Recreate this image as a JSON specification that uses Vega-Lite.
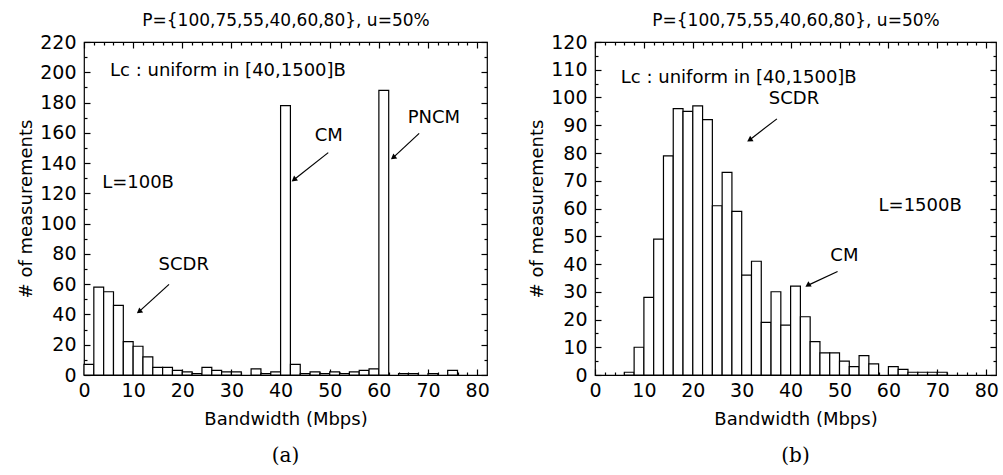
{
  "$schema": "https://vega.github.io/schema/vega-lite/v6.json",
  "background": "white",
  "padding": {"left": 17, "top": 10, "right": 5, "bottom": 5},
  "spacing": 38,
  "config": {
    "view": {"stroke": "black", "strokeWidth": 1.2},
    "axis": {"grid": false, "domain": false, "ticks": true, "tickColor": "black", "tickWidth": 1.2, "labelColor": "black", "titleColor": "black", "labelFont": "DejaVu Sans", "titleFont": "DejaVu Sans", "titleFontWeight": "normal", "labelFlush": false, "labelOverlap": false},
    "title": {"font": "DejaVu Serif", "fontSize": 20, "fontWeight": "normal", "color": "black"},
    "text": {"font": "DejaVu Sans", "fontSize": 18, "color": "black"}
  },
  "datasets": {
    "histA": [
      {"b0": 0, "b1": 2, "n": 7}, {"b0": 2, "b1": 4, "n": 58}, {"b0": 4, "b1": 6, "n": 55}, {"b0": 6, "b1": 8, "n": 46},
      {"b0": 8, "b1": 10, "n": 22}, {"b0": 10, "b1": 12, "n": 19}, {"b0": 12, "b1": 14, "n": 12}, {"b0": 14, "b1": 16, "n": 5},
      {"b0": 16, "b1": 18, "n": 5}, {"b0": 18, "b1": 20, "n": 3}, {"b0": 20, "b1": 22, "n": 2}, {"b0": 22, "b1": 24, "n": 1},
      {"b0": 24, "b1": 26, "n": 5}, {"b0": 26, "b1": 28, "n": 3}, {"b0": 28, "b1": 30, "n": 2}, {"b0": 30, "b1": 32, "n": 2},
      {"b0": 34, "b1": 36, "n": 4}, {"b0": 36, "b1": 38, "n": 1}, {"b0": 38, "b1": 40, "n": 2}, {"b0": 40, "b1": 42, "n": 178},
      {"b0": 42, "b1": 44, "n": 7}, {"b0": 44, "b1": 46, "n": 1}, {"b0": 46, "b1": 48, "n": 2}, {"b0": 48, "b1": 50, "n": 1},
      {"b0": 50, "b1": 52, "n": 2}, {"b0": 52, "b1": 54, "n": 1}, {"b0": 54, "b1": 56, "n": 2}, {"b0": 56, "b1": 58, "n": 3},
      {"b0": 58, "b1": 60, "n": 4}, {"b0": 60, "b1": 62, "n": 188}, {"b0": 64, "b1": 66, "n": 1}, {"b0": 66, "b1": 68, "n": 1},
      {"b0": 70, "b1": 72, "n": 1}, {"b0": 74, "b1": 76, "n": 3}
    ],
    "histB": [
      {"b0": 6, "b1": 8, "n": 1}, {"b0": 8, "b1": 10, "n": 10}, {"b0": 10, "b1": 12, "n": 28}, {"b0": 12, "b1": 14, "n": 49},
      {"b0": 14, "b1": 16, "n": 79}, {"b0": 16, "b1": 18, "n": 96}, {"b0": 18, "b1": 20, "n": 95}, {"b0": 20, "b1": 22, "n": 97},
      {"b0": 22, "b1": 24, "n": 92}, {"b0": 24, "b1": 26, "n": 61}, {"b0": 26, "b1": 28, "n": 73}, {"b0": 28, "b1": 30, "n": 59},
      {"b0": 30, "b1": 32, "n": 36}, {"b0": 32, "b1": 34, "n": 41}, {"b0": 34, "b1": 36, "n": 19}, {"b0": 36, "b1": 38, "n": 30},
      {"b0": 38, "b1": 40, "n": 18}, {"b0": 40, "b1": 42, "n": 32}, {"b0": 42, "b1": 44, "n": 21}, {"b0": 44, "b1": 46, "n": 12},
      {"b0": 46, "b1": 48, "n": 8}, {"b0": 48, "b1": 50, "n": 8}, {"b0": 50, "b1": 52, "n": 5}, {"b0": 52, "b1": 54, "n": 3},
      {"b0": 54, "b1": 56, "n": 7}, {"b0": 56, "b1": 58, "n": 4}, {"b0": 60, "b1": 62, "n": 3}, {"b0": 62, "b1": 64, "n": 2},
      {"b0": 64, "b1": 66, "n": 1}, {"b0": 66, "b1": 68, "n": 1}, {"b0": 68, "b1": 70, "n": 1}, {"b0": 70, "b1": 72, "n": 1}
    ],
    "textA": [
      {"x": 29.3, "y": 201, "label": "Lc : uniform in [40,1500]B"},
      {"x": 11, "y": 127, "label": "L=100B"},
      {"x": 20.3, "y": 73, "label": "SCDR"},
      {"x": 49.8, "y": 158, "label": "CM"},
      {"x": 71.2, "y": 170, "label": "PNCM"}
    ],
    "textB": [
      {"x": 29.4, "y": 107, "label": "Lc : uniform in [40,1500]B"},
      {"x": 40.7, "y": 99.5, "label": "SCDR"},
      {"x": 66.5, "y": 61, "label": "L=1500B"},
      {"x": 51, "y": 43, "label": "CM"}
    ],
    "arrowA": [
      {"x": 17.3, "y": 59.9, "x2": 11.2, "y2": 41.9},
      {"x": 49.7, "y": 146.9, "x2": 42.7, "y2": 129},
      {"x": 68.2, "y": 159.6, "x2": 62.9, "y2": 143.6}
    ],
    "arrowB": [
      {"x": 37.2, "y": 92.3, "x2": 31.6, "y2": 84.7},
      {"x": 49.6, "y": 37.3, "x2": 43.5, "y2": 32.3}
    ]
  },
  "hconcat": [
    {
      "width": 403, "height": 333,
      "title": {"text": "(a)", "orient": "bottom", "offset": 18},
      "resolve": {"axis": {"x": "independent", "y": "independent"}},
      "layer": [
        {
          "data": {"name": "histA"},
          "mark": {"type": "bar", "fill": "white", "stroke": "black", "strokeWidth": 1.2},
          "encoding": {
            "x": {"field": "b0", "type": "quantitative", "scale": {"domain": [0, 82], "nice": false, "zero": false},
              "axis": {"orient": "bottom", "offset": -6, "values": [0, 10, 20, 30, 40, 50, 60, 70, 80], "tickSize": 6, "labelFontSize": 19, "labelPadding": 6, "title": "Bandwidth (Mbps)", "titleFontSize": 18, "titlePadding": 10}},
            "x2": {"field": "b1"},
            "y": {"field": "n", "type": "quantitative", "scale": {"domain": [0, 220], "nice": false},
              "axis": {"orient": "left", "offset": -6, "values": [0, 20, 40, 60, 80, 100, 120, 140, 160, 180, 200, 220], "tickSize": 6, "labelFontSize": 19, "labelPadding": 8, "title": "# of measurements", "titleFontSize": 18, "titlePadding": 4}},
            "y2": {"datum": 0}
          }
        },
        {
          "data": {"name": "histA"},
          "mark": {"type": "bar", "opacity": 0},
          "encoding": {
            "x": {"field": "b0", "type": "quantitative", "scale": {"domain": [0, 82], "nice": false, "zero": false},
              "axis": {"orient": "bottom", "offset": -3, "values": [2, 4, 6, 8, 12, 14, 16, 18, 22, 24, 26, 28, 32, 34, 36, 38, 42, 44, 46, 48, 52, 54, 56, 58, 62, 64, 66, 68, 72, 74, 76, 78], "tickSize": 3, "labels": false, "title": null}},
            "x2": {"field": "b1"},
            "y": {"field": "n", "type": "quantitative", "scale": {"domain": [0, 220], "nice": false},
              "axis": {"orient": "left", "offset": -3, "values": [10, 30, 50, 70, 90, 110, 130, 150, 170, 190, 210], "tickSize": 3, "labels": false, "title": null}},
            "y2": {"datum": 0}
          }
        },
        {
          "data": {"name": "histA"},
          "mark": {"type": "bar", "opacity": 0},
          "encoding": {
            "x": {"field": "b0", "type": "quantitative", "scale": {"domain": [0, 82], "nice": false, "zero": false},
              "axis": {"orient": "top", "offset": -6, "values": [0, 10, 20, 30, 40, 50, 60, 70, 80], "tickSize": 6, "labels": false, "title": "P={100,75,55,40,60,80}, u=50%", "titleFontSize": 17, "titlePadding": 12}},
            "x2": {"field": "b1"},
            "y": {"field": "n", "type": "quantitative", "scale": {"domain": [0, 220], "nice": false},
              "axis": {"orient": "right", "offset": -6, "values": [0, 20, 40, 60, 80, 100, 120, 140, 160, 180, 200, 220], "tickSize": 6, "labels": false, "title": null}},
            "y2": {"datum": 0}
          }
        },
        {
          "data": {"name": "histA"},
          "mark": {"type": "bar", "opacity": 0},
          "encoding": {
            "x": {"field": "b0", "type": "quantitative", "scale": {"domain": [0, 82], "nice": false, "zero": false},
              "axis": {"orient": "top", "offset": -3, "values": [2, 4, 6, 8, 12, 14, 16, 18, 22, 24, 26, 28, 32, 34, 36, 38, 42, 44, 46, 48, 52, 54, 56, 58, 62, 64, 66, 68, 72, 74, 76, 78], "tickSize": 3, "labels": false, "title": null}},
            "x2": {"field": "b1"},
            "y": {"field": "n", "type": "quantitative", "scale": {"domain": [0, 220], "nice": false},
              "axis": {"orient": "right", "offset": -3, "values": [10, 30, 50, 70, 90, 110, 130, 150, 170, 190, 210], "tickSize": 3, "labels": false, "title": null}},
            "y2": {"datum": 0}
          }
        },
        {
          "data": {"name": "textA"},
          "mark": {"type": "text", "align": "center", "baseline": "middle"},
          "encoding": {
            "x": {"field": "x", "type": "quantitative", "scale": {"domain": [0, 82], "nice": false, "zero": false}, "axis": null},
            "y": {"field": "y", "type": "quantitative", "scale": {"domain": [0, 220], "nice": false}, "axis": null},
            "text": {"field": "label"}
          }
        },
        {
          "data": {"name": "arrowA"},
          "mark": {"type": "rule", "color": "black", "strokeWidth": 1.2},
          "encoding": {
            "x": {"field": "x", "type": "quantitative", "scale": {"domain": [0, 82], "nice": false, "zero": false}, "axis": null},
            "y": {"field": "y", "type": "quantitative", "scale": {"domain": [0, 220], "nice": false}, "axis": null},
            "x2": {"field": "x2"},
            "y2": {"field": "y2"}
          }
        },
        {
          "data": {"name": "arrowA"},
          "mark": {"type": "point", "shape": "triangle-up", "filled": true, "color": "black", "opacity": 1, "size": 40, "angle": 232},
          "encoding": {
            "x": {"field": "x2", "type": "quantitative", "scale": {"domain": [0, 82], "nice": false, "zero": false}, "axis": null},
            "y": {"field": "y2", "type": "quantitative", "scale": {"domain": [0, 220], "nice": false}, "axis": null}
          }
        }
      ]
    },
    {
      "width": 401, "height": 333,
      "title": {"text": "(b)", "orient": "bottom", "offset": 18},
      "resolve": {"axis": {"x": "independent", "y": "independent"}},
      "layer": [
        {
          "data": {"name": "histB"},
          "mark": {"type": "bar", "fill": "white", "stroke": "black", "strokeWidth": 1.2},
          "encoding": {
            "x": {"field": "b0", "type": "quantitative", "scale": {"domain": [0, 82], "nice": false, "zero": false},
              "axis": {"orient": "bottom", "offset": -6, "values": [0, 10, 20, 30, 40, 50, 60, 70, 80], "tickSize": 6, "labelFontSize": 19, "labelPadding": 6, "title": "Bandwidth (Mbps)", "titleFontSize": 18, "titlePadding": 10}},
            "x2": {"field": "b1"},
            "y": {"field": "n", "type": "quantitative", "scale": {"domain": [0, 120], "nice": false},
              "axis": {"orient": "left", "offset": -6, "values": [0, 10, 20, 30, 40, 50, 60, 70, 80, 90, 100, 110, 120], "tickSize": 6, "labelFontSize": 19, "labelPadding": 8, "title": "# of measurements", "titleFontSize": 18, "titlePadding": 4}},
            "y2": {"datum": 0}
          }
        },
        {
          "data": {"name": "histB"},
          "mark": {"type": "bar", "opacity": 0},
          "encoding": {
            "x": {"field": "b0", "type": "quantitative", "scale": {"domain": [0, 82], "nice": false, "zero": false},
              "axis": {"orient": "bottom", "offset": -3, "values": [2, 4, 6, 8, 12, 14, 16, 18, 22, 24, 26, 28, 32, 34, 36, 38, 42, 44, 46, 48, 52, 54, 56, 58, 62, 64, 66, 68, 72, 74, 76, 78], "tickSize": 3, "labels": false, "title": null}},
            "x2": {"field": "b1"},
            "y": {"field": "n", "type": "quantitative", "scale": {"domain": [0, 120], "nice": false},
              "axis": {"orient": "left", "offset": -3, "values": [5, 15, 25, 35, 45, 55, 65, 75, 85, 95, 105, 115], "tickSize": 3, "labels": false, "title": null}},
            "y2": {"datum": 0}
          }
        },
        {
          "data": {"name": "histB"},
          "mark": {"type": "bar", "opacity": 0},
          "encoding": {
            "x": {"field": "b0", "type": "quantitative", "scale": {"domain": [0, 82], "nice": false, "zero": false},
              "axis": {"orient": "top", "offset": -6, "values": [0, 10, 20, 30, 40, 50, 60, 70, 80], "tickSize": 6, "labels": false, "title": "P={100,75,55,40,60,80}, u=50%", "titleFontSize": 17, "titlePadding": 12}},
            "x2": {"field": "b1"},
            "y": {"field": "n", "type": "quantitative", "scale": {"domain": [0, 120], "nice": false},
              "axis": {"orient": "right", "offset": -6, "values": [0, 10, 20, 30, 40, 50, 60, 70, 80, 90, 100, 110, 120], "tickSize": 6, "labels": false, "title": null}},
            "y2": {"datum": 0}
          }
        },
        {
          "data": {"name": "histB"},
          "mark": {"type": "bar", "opacity": 0},
          "encoding": {
            "x": {"field": "b0", "type": "quantitative", "scale": {"domain": [0, 82], "nice": false, "zero": false},
              "axis": {"orient": "top", "offset": -3, "values": [2, 4, 6, 8, 12, 14, 16, 18, 22, 24, 26, 28, 32, 34, 36, 38, 42, 44, 46, 48, 52, 54, 56, 58, 62, 64, 66, 68, 72, 74, 76, 78], "tickSize": 3, "labels": false, "title": null}},
            "x2": {"field": "b1"},
            "y": {"field": "n", "type": "quantitative", "scale": {"domain": [0, 120], "nice": false},
              "axis": {"orient": "right", "offset": -3, "values": [5, 15, 25, 35, 45, 55, 65, 75, 85, 95, 105, 115], "tickSize": 3, "labels": false, "title": null}},
            "y2": {"datum": 0}
          }
        },
        {
          "data": {"name": "textB"},
          "mark": {"type": "text", "align": "center", "baseline": "middle"},
          "encoding": {
            "x": {"field": "x", "type": "quantitative", "scale": {"domain": [0, 82], "nice": false, "zero": false}, "axis": null},
            "y": {"field": "y", "type": "quantitative", "scale": {"domain": [0, 120], "nice": false}, "axis": null},
            "text": {"field": "label"}
          }
        },
        {
          "data": {"name": "arrowB"},
          "mark": {"type": "rule", "color": "black", "strokeWidth": 1.2},
          "encoding": {
            "x": {"field": "x", "type": "quantitative", "scale": {"domain": [0, 82], "nice": false, "zero": false}, "axis": null},
            "y": {"field": "y", "type": "quantitative", "scale": {"domain": [0, 120], "nice": false}, "axis": null},
            "x2": {"field": "x2"},
            "y2": {"field": "y2"}
          }
        },
        {
          "data": {"name": "arrowB"},
          "mark": {"type": "point", "shape": "triangle-up", "filled": true, "color": "black", "opacity": 1, "size": 40, "angle": 238},
          "encoding": {
            "x": {"field": "x2", "type": "quantitative", "scale": {"domain": [0, 82], "nice": false, "zero": false}, "axis": null},
            "y": {"field": "y2", "type": "quantitative", "scale": {"domain": [0, 120], "nice": false}, "axis": null}
          }
        }
      ]
    }
  ]
}
